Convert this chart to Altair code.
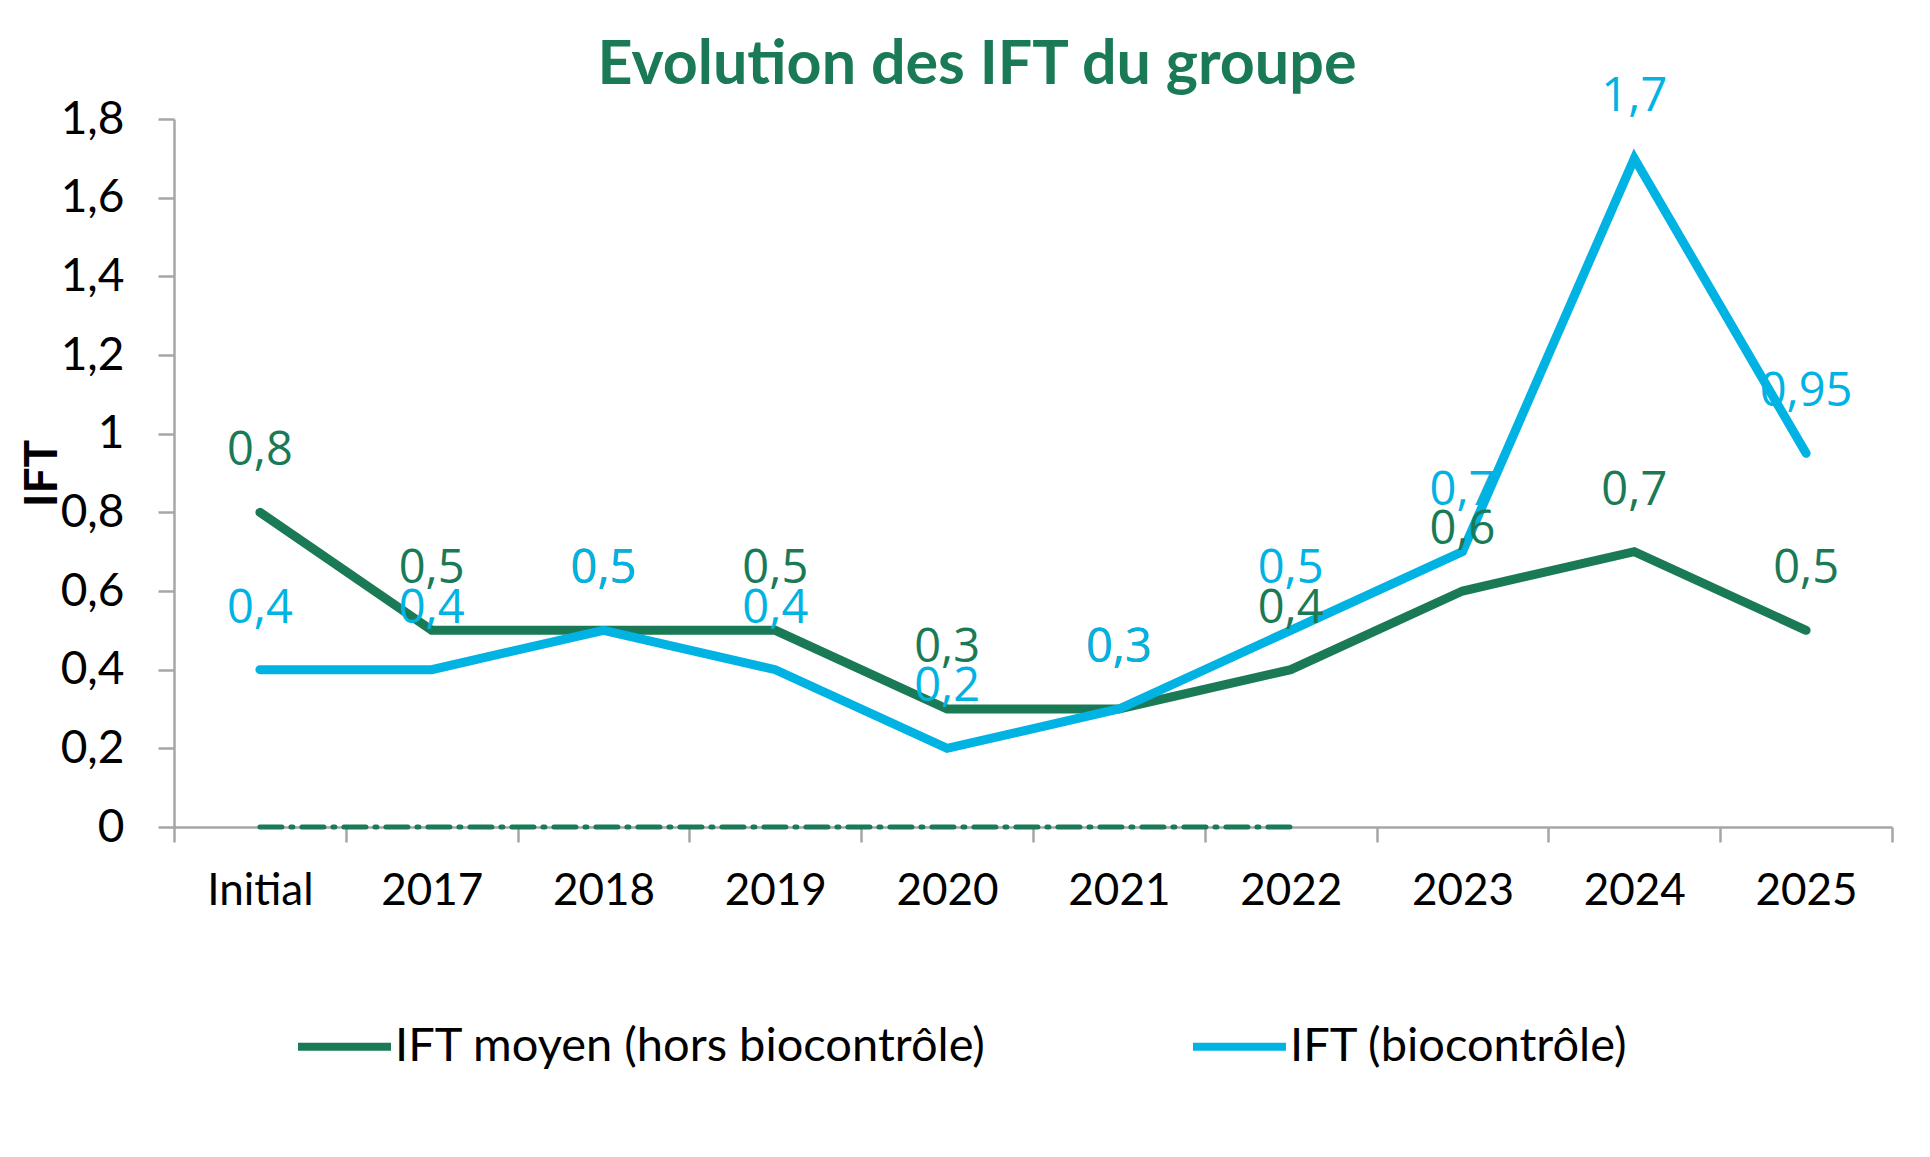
import altair as alt
import pandas as pd

categories = ["Initial", "2017", "2018", "2019", "2020", "2021", "2022", "2023", "2024", "2025"]
ift_moyen = [0.8, 0.5, 0.5, 0.5, 0.3, 0.3, 0.4, 0.6, 0.7, 0.5]
ift_bio = [0.4, 0.4, 0.5, 0.4, 0.2, 0.3, 0.5, 0.7, 1.7, 0.95]
zero_cats = ["Initial", "2017", "2018", "2019", "2020", "2021", "2022"]
zero_vals = [0, 0, 0, 0, 0, 0, 0]
y_ticks = [0, 0.2, 0.4, 0.6, 0.8, 1.0, 1.2, 1.4, 1.6, 1.8]

S1 = "IFT moyen (hors biocontrôle)"
S2 = "IFT (biocontrôle)"
GREEN = "#1A7A56"
BLUE = "#00B3E3"
AXIS_GRAY = "#A6A6A6"


def lab(v):
    return f"{v:g}".replace(".", ",")


rows = []
for c, v in zip(categories, ift_moyen):
    rows.append({"cat": c, "serie": S1, "val": v, "txt": lab(v)})
for c, v in zip(categories, ift_bio):
    rows.append({"cat": c, "serie": S2, "val": v, "txt": lab(v)})
df = pd.DataFrame(rows)
zdf = pd.DataFrame({"cat": zero_cats, "val": zero_vals})

H = 708

x_enc = alt.X(
    "cat:N",
    sort=categories,
    scale=alt.Scale(type="band", paddingInner=0, paddingOuter=0, domain=categories),
    axis=alt.Axis(
        title=None,
        labelAngle=0,
        tickBand="extent",
        labelFont="Lato",
        labelFontSize=44,
        labelColor="#000000",
        labelPadding=27,
        tickSize=15,
        tickColor=AXIS_GRAY,
        tickWidth=2.5,
        domainColor=AXIS_GRAY,
        domainWidth=2.5,
        grid=False,
    ),
)
y_enc = alt.Y(
    "val:Q",
    scale=alt.Scale(domain=[0, 1.8], nice=False),
    axis=alt.Axis(
        title="IFT",
        titleFont="Lato",
        titleFontSize=46,
        titleFontWeight="bold",
        titleColor="#000000",
        titleAngle=-90,
        titleX=-132,
        titleY=H / 2,
        titleAlign="center",
        titleBaseline="middle",
        values=y_ticks,
        labelExpr="replace(format(datum.value, '~g'), '.', ',')",
        labelFont="Lato",
        labelFontSize=46,
        labelColor="#000000",
        labelPadding=34,
        tickSize=16,
        tickColor=AXIS_GRAY,
        tickWidth=2.5,
        domainColor=AXIS_GRAY,
        domainWidth=2.5,
        grid=False,
    ),
)

color_enc = alt.Color(
    "serie:N",
    scale=alt.Scale(domain=[S1, S2], range=[GREEN, BLUE]),
    legend=alt.Legend(
        title=None,
        orient="none",
        direction="horizontal",
        columns=2,
        legendX=120,
        legendY=877,
        symbolType="stroke",
        symbolSize=8649,
        symbolStrokeWidth=8,
        labelFont="Lato",
        labelFontSize=47,
        labelColor="#000000",
        labelOffset=0,
        columnPadding=190,
        labelLimit=1000,
    ),
)

base = alt.Chart(df)

zero_line = alt.Chart(zdf).mark_line(
    color=GREEN, strokeWidth=5, strokeDash=[22, 9, 2, 9], strokeCap="round"
).encode(x=x_enc, y=y_enc)

line1 = base.transform_filter(alt.datum.serie == S1).mark_line(
    strokeWidth=9, strokeCap="round"
).encode(x=x_enc, y=y_enc, color=color_enc)

line2 = base.transform_filter(alt.datum.serie == S2).mark_line(
    strokeWidth=9, strokeCap="round"
).encode(x=x_enc, y=y_enc, color=color_enc)

text1 = base.transform_filter(alt.datum.serie == S1).mark_text(
    font="Open Sans", fontSize=47, color=GREEN, dy=-61, baseline="middle", align="center"
).encode(x=x_enc, y=y_enc, text="txt:N")

text2 = base.transform_filter(alt.datum.serie == S2).mark_text(
    font="Open Sans", fontSize=47, color=BLUE, dy=-61, baseline="middle", align="center"
).encode(x=x_enc, y=y_enc, text="txt:N")

chart = (
    alt.layer(zero_line, line1, line2, text1, text2)
    .properties(
        width=1718,
        height=H,
        autosize=alt.AutoSizeParams(type="none"),
        padding={"left": 166, "top": 111, "right": 10, "bottom": 300},
        title=alt.TitleParams(
            text="Evolution des IFT du groupe",
            font="Lato",
            fontSize=61,
            fontWeight="bold",
            color=GREEN,
            anchor="middle",
            dx=-56,
            offset=-24,
        ),
        background="white",
    )
    .configure_view(strokeWidth=0)
)

chart.save("out.html", embed_options={"renderer": "svg", "actions": False})
